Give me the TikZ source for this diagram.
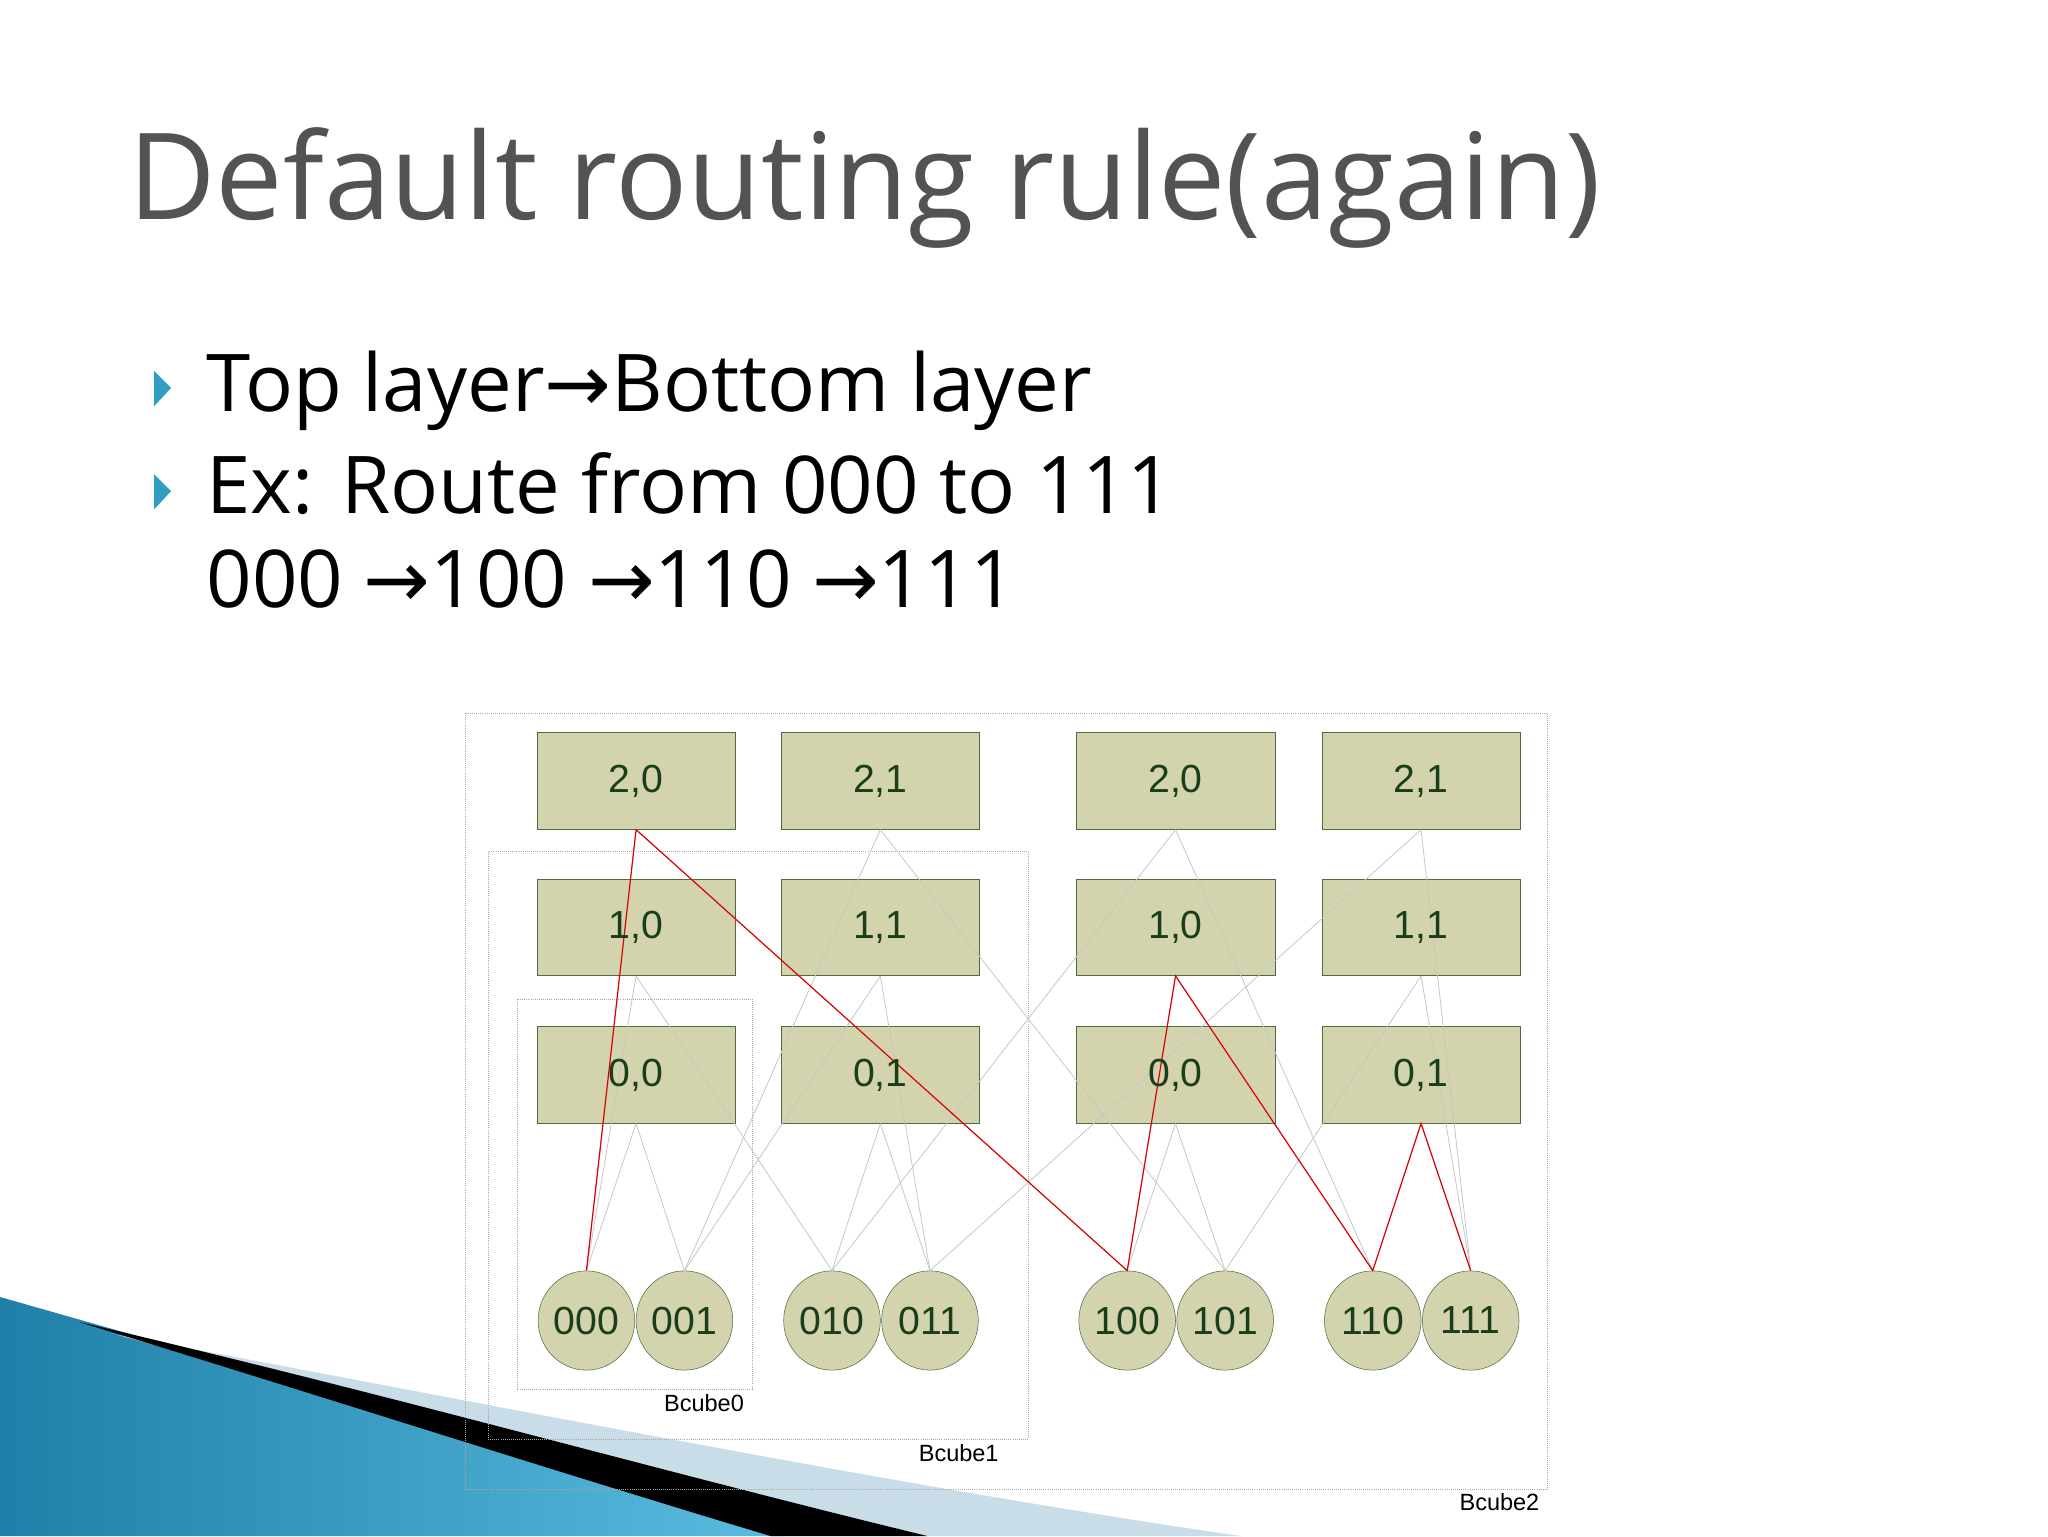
\documentclass[tikz,border=0pt]{standalone}
\usepackage{fontspec}
\setmainfont{Open Sans}
\newfontfamily\arr{DejaVu Sans}
\newfontfamily\lab{Liberation Sans}
\usetikzlibrary{shapes.geometric,shadows}
\definecolor{boxf}{HTML}{D3D3AE}
\definecolor{boxd}{HTML}{4E6A40}
\definecolor{txtg}{HTML}{1A3D1A}
\definecolor{teal}{HTML}{2F9FC0}
\definecolor{swA}{HTML}{1F7FA8}
\definecolor{swB}{HTML}{5BBCE0}
\definecolor{swC}{HTML}{C9DDE8}
\begin{document}
\begin{tikzpicture}[x=1pt,y=-1pt,
 sw/.style={draw=boxd,fill=boxf,minimum width=152pt,minimum height=74pt,inner sep=0},
 srv/.style={draw=boxd,fill=boxf,ellipse,minimum width=74pt,minimum height=76pt,inner sep=0,font=\lab\fontsize{30}{30}\selectfont,text=txtg},
 gl/.style={draw=gray!45,line width=0.6pt},
 rl/.style={draw=red!85!black,line width=0.9pt},
 fr/.style={draw=gray!70,densely dotted,line width=0.6pt},
 fl/.style={font=\lab\fontsize{18}{18}\selectfont,anchor=north},
 bt/.style={anchor=base west,inner sep=0,font=\fontsize{61}{61}\selectfont}]
\useasboundingbox (0,0) rectangle (1568,1176);
\fill[white] (0,0) rectangle (1568,1176);
% swoosh
\shade[left color=swA,right color=swB] (0,993) .. controls (200,1050) and (450,1120) .. (600,1176) -- (0,1176) -- cycle;
\fill[swC] (90,1022) .. controls (400,1080) and (700,1140) .. (950,1176) -- (700,1176) .. controls (500,1130) and (300,1080) .. (90,1022) -- cycle;
\fill[black] (60,1012) .. controls (300,1068) and (500,1125) .. (710,1176) -- (590,1176) .. controls (420,1125) and (250,1070) .. (60,1012) -- cycle;
% title
\node[anchor=base west,text=gray!20!black!75,font=\fontsize{92}{92}\selectfont,inner sep=0] (title) at (98,168) {Default routing rule(again)};
% bullets
\fill[teal] (118,284) -- (131,297) -- (118,311) -- cycle;
\fill[teal] (118,363) -- (131,376) -- (118,390) -- cycle;
\node[bt] (b1) at (158,315) {Top layer{\arr→}Bottom layer};
\node[bt] (b2) at (158,393) {Ex: Route from 000 to 111};
\node[bt] (b3) at (158,465) {000 {\arr→}100 {\arr→}110 {\arr→}111};
% frames
\draw[fr] (356,546) rectangle (1185,1140);
\draw[fr] (374,652) rectangle (787,1102);
\draw[fr] (396,765) rectangle (576,1064);
\node[fl] (l2) at (1148,1140) {Bcube2};
\node[fl] (l1) at (734,1102) {Bcube1};
\node[fl] (l0) at (539,1064) {Bcube0};
% switches
\foreach \c/\x in {a/487,b/674,c/900,d/1088}{
 \node[sw] (t\c) at (\x,598) {};
 \node[sw] (m\c) at (\x,710) {};
 \node[sw] (z\c) at (\x,823) {};}
% servers
\foreach \n/\x in {000/449,001/524,010/637,011/712,100/863,101/938,110/1051,111/1126}{
 \node[srv] (s\n) at (\x,1011) {\n};}
% gray edges
\foreach \a/\b in {za/000,za/001,zb/010,zb/011,zc/100,zc/101,zd/110,zd/111,
 ma/000,ma/010,mb/001,mb/011,mc/100,mc/110,md/101,md/111,
 ta/000,ta/100,tb/001,tb/101,tc/010,tc/110,td/011,td/111}{
 \draw[gl] (\a.south) -- (s\b.north);}
% red path
\draw[rl] (s000.north) -- (ta.south) -- (s100.north) -- (mc.south) -- (s110.north) -- (zd.south) -- (s111.north);
% labels on top
\foreach \c/\x in {a/0,b/1,c/0,d/1}{
 \node[font=\lab\fontsize{30}{30}\selectfont,text=txtg] at (t\c) {2,\x};
 \node[font=\lab\fontsize{30}{30}\selectfont,text=txtg] at (m\c) {1,\x};
 \node[font=\lab\fontsize{30}{30}\selectfont,text=txtg] at (z\c) {0,\x};}
\end{tikzpicture}
\end{document}
